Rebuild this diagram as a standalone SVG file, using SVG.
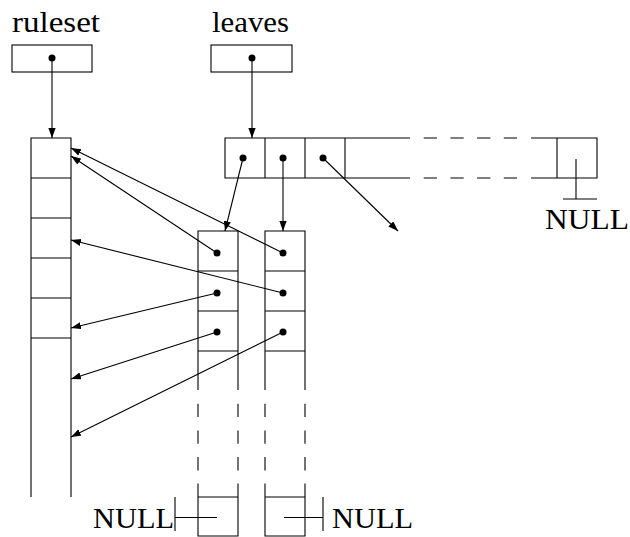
<svg xmlns="http://www.w3.org/2000/svg" width="630" height="537" viewBox="0 0 630 537">
  <defs>
    <marker id="arrow" markerUnits="userSpaceOnUse" markerWidth="11" markerHeight="8" refX="10" refY="3.6" orient="auto">
      <path d="M0,0 L10,3.6 L0,7.2 z" fill="#000"/>
    </marker>
    <style>
      .box { fill: none; stroke: #000; stroke-width: 1.1; }
      .ln { stroke: #000; stroke-width: 1.1; fill: none; }
      .dash { stroke: #000; stroke-width: 1.1; fill: none; stroke-dasharray: 13.3 13.4; }
      .ptr { stroke: #000; stroke-width: 1.1; fill: none; marker-end: url(#arrow); }
      .dot { fill: #000; }
      .lbl { font-family: "Liberation Serif", "DejaVu Serif", serif; font-size: 30px; fill: #000; }
    </style>
  </defs>

  <rect width="630" height="537" fill="#fff"/>

  <!-- ruleset head pointer -->
  <g id="ruleset-var">
    <text class="lbl" x="12" y="32" textLength="88" lengthAdjust="spacingAndGlyphs">ruleset</text>
    <rect class="box" x="12" y="45" width="80" height="27"/>
    <circle class="dot" cx="52" cy="58" r="3.5"/>
  </g>

  <!-- leaves head pointer -->
  <g id="leaves-var">
    <text class="lbl" x="212" y="32" textLength="77" lengthAdjust="spacingAndGlyphs">leaves</text>
    <rect class="box" x="211" y="45" width="81" height="27"/>
    <circle class="dot" cx="252" cy="58" r="3.5"/>
  </g>

  <!-- ruleset array: open-ended column -->
  <g id="ruleset-array">
    <path class="ln" d="M31,497 V138 H71 V497"/>
    <path class="ln" d="M31,178 H71 M31,218 H71 M31,258 H71 M31,298 H71 M31,338 H71"/>
  </g>

  <!-- leaves array: horizontal row with elided middle -->
  <g id="leaves-array">
    <path class="ln" d="M410,138 H225 V178 H410"/>
    <path class="dash" d="M423.7,138 H518 M423.7,178 H518"/>
    <path class="ln" d="M531,138 H597 V178 H531"/>
    <path class="ln" d="M265,138 V178 M305,138 V178 M345,138 V178 M557,138 V178"/>
    <circle class="dot" cx="243" cy="158" r="3.5"/>
    <circle class="dot" cx="283" cy="158" r="3.5"/>
    <circle class="dot" cx="323" cy="158" r="3.5"/>
    <!-- terminating slot -->
    <path class="ln" d="M576,159 V199 M563,199 H597"/>
    <text class="lbl" x="545" y="229" textLength="84" lengthAdjust="spacingAndGlyphs">NULL</text>
  </g>

  <!-- first leaf rule list -->
  <g id="leaf-list-1">
    <path class="ln" d="M198,390 V231 H238 V390"/>
    <path class="ln" d="M198,271 H238 M198,311 H238 M198,351 H238"/>
    <path class="dash" d="M198,403.7 V471 M238,403.7 V471"/>
    <path class="ln" d="M198,483.5 V536 H238 V483.5 M198,497 H238"/>
    <circle class="dot" cx="217" cy="253" r="3.5"/>
    <circle class="dot" cx="217" cy="293" r="3.5"/>
    <circle class="dot" cx="217" cy="332" r="3.5"/>
    <path class="ln" d="M217,517.5 H175 M175,497 V531"/>
    <text class="lbl" x="93" y="528" textLength="81" lengthAdjust="spacingAndGlyphs">NULL</text>
  </g>

  <!-- second leaf rule list -->
  <g id="leaf-list-2">
    <path class="ln" d="M265,390 V231 H305 V390"/>
    <path class="ln" d="M265,271 H305 M265,311 H305 M265,351 H305"/>
    <path class="dash" d="M265,403.7 V471 M305,403.7 V471"/>
    <path class="ln" d="M265,483.5 V536 H305 V483.5 M265,497 H305"/>
    <circle class="dot" cx="283" cy="253" r="3.5"/>
    <circle class="dot" cx="283" cy="293" r="3.5"/>
    <circle class="dot" cx="283" cy="332" r="3.5"/>
    <path class="ln" d="M284,517.5 H323 M323,497 V531"/>
    <text class="lbl" x="332" y="528" textLength="81" lengthAdjust="spacingAndGlyphs">NULL</text>
  </g>

  <!-- pointers -->
  <g id="connectors">
    <line class="ptr" x1="52" y1="58" x2="52" y2="138"/>
    <line class="ptr" x1="252" y1="58" x2="252" y2="138"/>
    <line class="ptr" x1="243" y1="158" x2="225" y2="231"/>
    <line class="ptr" x1="283" y1="158" x2="283" y2="231"/>
    <line class="ptr" x1="323" y1="158" x2="398" y2="231"/>
    <line class="ptr" x1="283" y1="253" x2="71" y2="148"/>
    <line class="ptr" x1="217" y1="253" x2="71" y2="156"/>
    <line class="ptr" x1="283" y1="293" x2="71" y2="240"/>
    <line class="ptr" x1="217" y1="293" x2="71" y2="328"/>
    <line class="ptr" x1="217" y1="332" x2="71" y2="379"/>
    <line class="ptr" x1="283" y1="332" x2="71" y2="437"/>
  </g>
</svg>
